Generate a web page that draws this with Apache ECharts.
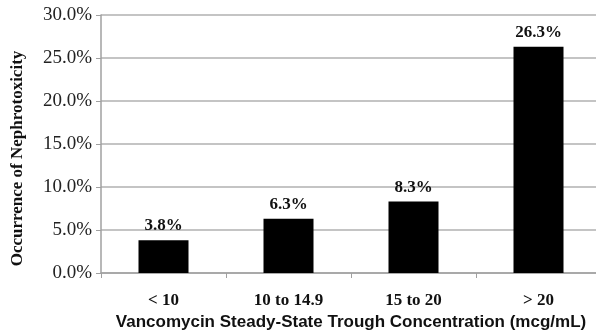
<!DOCTYPE html>
<html><head><meta charset="utf-8">
<script src="https://cdn.jsdelivr.net/npm/echarts@6/dist/echarts.min.js"></script>
<style>html,body{margin:0;padding:0;background:#fff}#c{width:596px;height:335px}</style>
</head><body><div id="c"></div>
<script>
var categories = ['< 10', '10 to 14.9', '15 to 20', '> 20'];
var values = [3.8, 6.3, 8.3, 26.3];
var yTicks = [0, 5, 10, 15, 20, 25, 30];
var chart = echarts.init(document.getElementById('c'));
chart.setOption({
  animation: false,
  grid: {left: 101, right: -5, top: 15, bottom: 62, containLabel: false, outerBoundsMode: 'none'},
  xAxis: {
    type: 'category', data: categories,
    axisLine: {lineStyle: {color: '#a0a0a0', width: 1.5}},
    axisTick: {show: true, length: 5, lineStyle: {color: '#a0a0a0'}},
    axisLabel: {color: '#111', fontFamily: 'Liberation Serif', fontWeight: 'bold', fontSize: 17, margin: 19},
    name: 'Vancomycin Steady-State Trough Concentration (mcg/mL)',
    nameLocation: 'middle', nameGap: 37,
    nameTextStyle: {color: '#111', fontFamily: 'Liberation Sans', fontWeight: 'bold', fontSize: 17}
  },
  yAxis: {
    type: 'value', min: 0, max: 30, interval: 5,
    axisLine: {show: true, lineStyle: {color: '#a0a0a0', width: 1.5}},
    axisTick: {show: true, length: 5, lineStyle: {color: '#a0a0a0'}},
    splitLine: {lineStyle: {color: '#b0b0b0', width: 1.5}},
    axisLabel: {color: '#222', fontFamily: 'Liberation Serif', fontSize: 19, margin: 9,
      formatter: function (v) { return v.toFixed(1) + '%'; }},
    name: 'Occurrence of Nephrotoxicity', nameLocation: 'middle', nameGap: 75, nameRotate: 90,
    nameTextStyle: {color: '#111', fontFamily: 'Liberation Serif', fontWeight: 'bold', fontSize: 17,
      padding: [0, 29, 0, 0]}
  },
  series: [{
    type: 'bar', data: values, barWidth: 50,
    itemStyle: {color: '#000'},
    label: {show: true, position: 'top', distance: 6, color: '#111', fontFamily: 'Liberation Serif',
      fontWeight: 'bold', fontSize: 17, formatter: function (p) { return p.value.toFixed(1) + '%'; }}
  }]
});
</script></body></html>
